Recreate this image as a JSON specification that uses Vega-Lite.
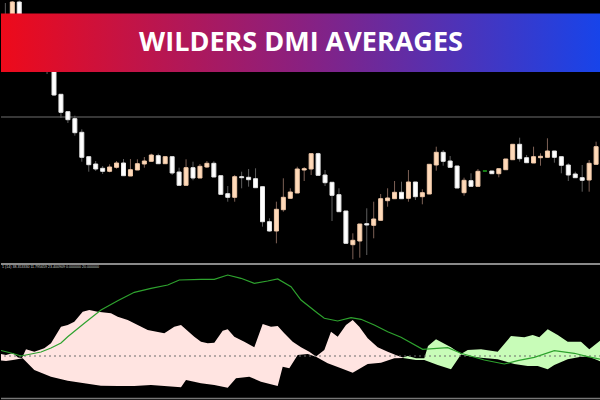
{
  "$schema": "https://vega.github.io/schema/vega-lite/v6.json",
  "background": "#000000",
  "padding": 0,
  "spacing": 0,
  "config": {"view": {"stroke": null}, "axis": {"disable": true}, "concat": {"spacing": 0}, "scale": {"continuousPadding": 0}},
  "datasets": {
    "candles": [
      {"bar": -7, "open": 1.1985, "high": 1.1997, "low": 1.1965, "close": 1.1970},
      {"bar": -6, "open": 1.1975, "high": 1.1999, "low": 1.1972, "close": 1.1998},
      {"bar": -5, "open": 1.1998, "high": 1.19995, "low": 1.1967, "close": 1.1970},
      {"bar": -4, "open": 1.1972, "high": 1.1975, "low": 1.1956, "close": 1.1960},
      {"bar": -3, "open": 1.1962, "high": 1.1974, "low": 1.1958, "close": 1.1970},
      {"bar": -2, "open": 1.1964, "high": 1.1968, "low": 1.1942, "close": 1.1945},
      {"bar": -1, "open": 1.1950, "high": 1.1954, "low": 1.1926, "close": 1.1932},
      {"bar": 0, "open": 1.1942, "high": 1.1945, "low": 1.1904, "close": 1.1905},
      {"bar": 1, "open": 1.19057, "high": 1.19057, "low": 1.1882, "close": 1.18877},
      {"bar": 2, "open": 1.18883, "high": 1.18883, "low": 1.1877, "close": 1.18803},
      {"bar": 3, "open": 1.18813, "high": 1.18843, "low": 1.18643, "close": 1.18673},
      {"bar": 4, "open": 1.18677, "high": 1.18707, "low": 1.18383, "close": 1.18427},
      {"bar": 5, "open": 1.18433, "high": 1.18433, "low": 1.18283, "close": 1.18353},
      {"bar": 6, "open": 1.1836, "high": 1.1839, "low": 1.1829, "close": 1.1831},
      {"bar": 7, "open": 1.18317, "high": 1.1834, "low": 1.1826, "close": 1.18287},
      {"bar": 8, "open": 1.18287, "high": 1.18357, "low": 1.18277, "close": 1.1833},
      {"bar": 9, "open": 1.18327, "high": 1.1839, "low": 1.18313, "close": 1.1837},
      {"bar": 10, "open": 1.1837, "high": 1.1841, "low": 1.18243, "close": 1.18243},
      {"bar": 11, "open": 1.1824, "high": 1.1841, "low": 1.1824, "close": 1.18303},
      {"bar": 12, "open": 1.183, "high": 1.18407, "low": 1.183, "close": 1.18363},
      {"bar": 13, "open": 1.1836, "high": 1.1843, "low": 1.18323, "close": 1.1839},
      {"bar": 14, "open": 1.18387, "high": 1.18463, "low": 1.18387, "close": 1.1845},
      {"bar": 15, "open": 1.18443, "high": 1.18463, "low": 1.18363, "close": 1.18363},
      {"bar": 16, "open": 1.18363, "high": 1.18433, "low": 1.18363, "close": 1.18433},
      {"bar": 17, "open": 1.18433, "high": 1.18433, "low": 1.1825, "close": 1.1827},
      {"bar": 18, "open": 1.1828, "high": 1.18323, "low": 1.18147, "close": 1.18147},
      {"bar": 19, "open": 1.18147, "high": 1.18407, "low": 1.18147, "close": 1.18323},
      {"bar": 20, "open": 1.18323, "high": 1.18383, "low": 1.18197, "close": 1.1822},
      {"bar": 21, "open": 1.1822, "high": 1.1836, "low": 1.1822, "close": 1.18337},
      {"bar": 22, "open": 1.1833, "high": 1.1839, "low": 1.1832, "close": 1.18367},
      {"bar": 23, "open": 1.18367, "high": 1.18387, "low": 1.1823, "close": 1.1823},
      {"bar": 24, "open": 1.18243, "high": 1.18243, "low": 1.18057, "close": 1.18057},
      {"bar": 25, "open": 1.18063, "high": 1.1814, "low": 1.17983, "close": 1.18027},
      {"bar": 26, "open": 1.18027, "high": 1.1825, "low": 1.17983, "close": 1.18233},
      {"bar": 27, "open": 1.18233, "high": 1.18283, "low": 1.18117, "close": 1.18223},
      {"bar": 28, "open": 1.18227, "high": 1.1831, "low": 1.18133, "close": 1.18203},
      {"bar": 29, "open": 1.18213, "high": 1.18317, "low": 1.18123, "close": 1.18123},
      {"bar": 30, "open": 1.18133, "high": 1.18133, "low": 1.17733, "close": 1.17783},
      {"bar": 31, "open": 1.17783, "high": 1.17817, "low": 1.17683, "close": 1.1769},
      {"bar": 32, "open": 1.1769, "high": 1.17983, "low": 1.17567, "close": 1.17907},
      {"bar": 33, "open": 1.17903, "high": 1.18217, "low": 1.17883, "close": 1.18027},
      {"bar": 34, "open": 1.18017, "high": 1.18117, "low": 1.18017, "close": 1.1808},
      {"bar": 35, "open": 1.1807, "high": 1.18333, "low": 1.1807, "close": 1.1831},
      {"bar": 36, "open": 1.183, "high": 1.1833, "low": 1.1819, "close": 1.18313},
      {"bar": 37, "open": 1.1831, "high": 1.18463, "low": 1.1825, "close": 1.18463},
      {"bar": 38, "open": 1.18463, "high": 1.18473, "low": 1.18247, "close": 1.18247},
      {"bar": 39, "open": 1.1825, "high": 1.183, "low": 1.1814, "close": 1.18173},
      {"bar": 40, "open": 1.18177, "high": 1.18177, "low": 1.1779, "close": 1.18047},
      {"bar": 41, "open": 1.18053, "high": 1.18117, "low": 1.17883, "close": 1.17883},
      {"bar": 42, "open": 1.1789, "high": 1.1789, "low": 1.17567, "close": 1.17567},
      {"bar": 43, "open": 1.17553, "high": 1.17667, "low": 1.17407, "close": 1.17597},
      {"bar": 44, "open": 1.1759, "high": 1.1776, "low": 1.17423, "close": 1.1776},
      {"bar": 45, "open": 1.17763, "high": 1.17917, "low": 1.1745, "close": 1.1775},
      {"bar": 46, "open": 1.17747, "high": 1.17983, "low": 1.17617, "close": 1.1781},
      {"bar": 47, "open": 1.17797, "high": 1.1806, "low": 1.17797, "close": 1.18013},
      {"bar": 48, "open": 1.17993, "high": 1.18117, "low": 1.17933, "close": 1.1802},
      {"bar": 49, "open": 1.18013, "high": 1.1819, "low": 1.18013, "close": 1.18077},
      {"bar": 50, "open": 1.18077, "high": 1.18183, "low": 1.18013, "close": 1.18013},
      {"bar": 51, "open": 1.18017, "high": 1.183, "low": 1.17983, "close": 1.1818},
      {"bar": 52, "open": 1.1818, "high": 1.1818, "low": 1.18, "close": 1.18033},
      {"bar": 53, "open": 1.18033, "high": 1.18107, "low": 1.17957, "close": 1.18073},
      {"bar": 54, "open": 1.1806, "high": 1.18357, "low": 1.1806, "close": 1.18357},
      {"bar": 55, "open": 1.1835, "high": 1.18533, "low": 1.18293, "close": 1.18477},
      {"bar": 56, "open": 1.18477, "high": 1.185, "low": 1.18343, "close": 1.18387},
      {"bar": 57, "open": 1.1839, "high": 1.1844, "low": 1.18327, "close": 1.18327},
      {"bar": 58, "open": 1.1834, "high": 1.1834, "low": 1.1812, "close": 1.1812},
      {"bar": 59, "open": 1.18073, "high": 1.18223, "low": 1.18043, "close": 1.18197},
      {"bar": 60, "open": 1.18193, "high": 1.18267, "low": 1.18137, "close": 1.18137},
      {"bar": 61, "open": 1.18137, "high": 1.1831, "low": 1.18137, "close": 1.18287},
      {"bar": 62, "open": 1.1829, "high": 1.1829, "low": 1.1829, "close": 1.1829},
      {"bar": 63, "open": 1.1829, "high": 1.1829, "low": 1.18263, "close": 1.18263},
      {"bar": 64, "open": 1.18263, "high": 1.18313, "low": 1.18227, "close": 1.18313},
      {"bar": 65, "open": 1.18303, "high": 1.1841, "low": 1.18303, "close": 1.1841},
      {"bar": 66, "open": 1.18403, "high": 1.18557, "low": 1.18403, "close": 1.18557},
      {"bar": 67, "open": 1.18557, "high": 1.18623, "low": 1.18383, "close": 1.18413},
      {"bar": 68, "open": 1.18423, "high": 1.1845, "low": 1.18373, "close": 1.18373},
      {"bar": 69, "open": 1.1837, "high": 1.18533, "low": 1.1837, "close": 1.18433},
      {"bar": 70, "open": 1.18423, "high": 1.18467, "low": 1.18343, "close": 1.18437},
      {"bar": 71, "open": 1.18427, "high": 1.18617, "low": 1.18427, "close": 1.1849},
      {"bar": 72, "open": 1.1849, "high": 1.1849, "low": 1.18373, "close": 1.18427},
      {"bar": 73, "open": 1.18433, "high": 1.18433, "low": 1.18267, "close": 1.18347},
      {"bar": 74, "open": 1.1835, "high": 1.18367, "low": 1.1819, "close": 1.1825},
      {"bar": 75, "open": 1.1826, "high": 1.18283, "low": 1.18223, "close": 1.18223},
      {"bar": 76, "open": 1.18223, "high": 1.1835, "low": 1.18083, "close": 1.18197},
      {"bar": 77, "open": 1.182, "high": 1.184, "low": 1.18083, "close": 1.18367},
      {"bar": 78, "open": 1.18357, "high": 1.18583, "low": 1.18357, "close": 1.18533},
      {"bar": 79, "open": 1.1854, "high": 1.1856, "low": 1.184, "close": 1.184}
    ],
    "dmi": [
      {"series": "upper_pink", "bar": -7.626, "value": 20.95},
      {"series": "upper_pink", "bar": -6.906, "value": 20.48},
      {"series": "upper_pink", "bar": -5.899, "value": 21.43},
      {"series": "upper_pink", "bar": -5.18, "value": 19.29},
      {"series": "upper_pink", "bar": -4.604, "value": 19.05},
      {"series": "upper_pink", "bar": -4.029, "value": 23.19},
      {"series": "upper_pink", "bar": -2.835, "value": 22.05},
      {"series": "upper_pink", "bar": -1.396, "value": 23.67},
      {"series": "upper_pink", "bar": -0.432, "value": 26.05},
      {"series": "upper_pink", "bar": 1.007, "value": 33.95},
      {"series": "upper_pink", "bar": 1.971, "value": 34.76},
      {"series": "upper_pink", "bar": 2.921, "value": 36.33},
      {"series": "upper_pink", "bar": 4.129, "value": 41.10},
      {"series": "upper_pink", "bar": 5.079, "value": 41.90},
      {"series": "upper_pink", "bar": 6.288, "value": 41.10},
      {"series": "upper_pink", "bar": 8.201, "value": 40.33},
      {"series": "upper_pink", "bar": 9.165, "value": 38.71},
      {"series": "upper_pink", "bar": 10.604, "value": 37.14},
      {"series": "upper_pink", "bar": 12.043, "value": 34.76},
      {"series": "upper_pink", "bar": 13.482, "value": 32.38},
      {"series": "upper_pink", "bar": 15.871, "value": 30.81},
      {"series": "upper_pink", "bar": 17.309, "value": 33.95},
      {"series": "upper_pink", "bar": 18.273, "value": 34.76},
      {"series": "upper_pink", "bar": 20.187, "value": 29.19},
      {"series": "upper_pink", "bar": 21.151, "value": 26.81},
      {"series": "upper_pink", "bar": 22.115, "value": 26.05},
      {"series": "upper_pink", "bar": 23.065, "value": 26.33},
      {"series": "upper_pink", "bar": 24.273, "value": 32.05},
      {"series": "upper_pink", "bar": 24.993, "value": 32.71},
      {"series": "upper_pink", "bar": 25.942, "value": 29.19},
      {"series": "upper_pink", "bar": 27.381, "value": 26.81},
      {"series": "upper_pink", "bar": 28.82, "value": 24.14},
      {"series": "upper_pink", "bar": 30.029, "value": 35.24},
      {"series": "upper_pink", "bar": 31.223, "value": 33.95},
      {"series": "upper_pink", "bar": 32.187, "value": 34.29},
      {"series": "upper_pink", "bar": 33.137, "value": 30.81},
      {"series": "upper_pink", "bar": 34.345, "value": 26.81},
      {"series": "upper_pink", "bar": 35.54, "value": 24.14},
      {"series": "upper_pink", "bar": 36.734, "value": 22.05},
      {"series": "upper_pink", "bar": 37.698, "value": 19.76},
      {"series": "upper_pink", "bar": 38.892, "value": 22.86},
      {"series": "upper_pink", "bar": 39.856, "value": 31.57},
      {"series": "upper_pink", "bar": 40.82, "value": 29.19},
      {"series": "upper_pink", "bar": 42.014, "value": 34.76},
      {"series": "upper_pink", "bar": 42.978, "value": 37.14},
      {"series": "upper_pink", "bar": 43.928, "value": 33.95},
      {"series": "upper_pink", "bar": 45.137, "value": 28.43},
      {"series": "upper_pink", "bar": 46.576, "value": 24.14},
      {"series": "upper_pink", "bar": 48.014, "value": 22.05},
      {"series": "upper_pink", "bar": 49.353, "value": 20.24},
      {"series": "upper_pink", "bar": 50.216, "value": 19.29},
      {"series": "upper_green", "bar": 50.216, "value": 19.29},
      {"series": "upper_green", "bar": 50.892, "value": 20.00},
      {"series": "upper_green", "bar": 52.086, "value": 18.90},
      {"series": "upper_green", "bar": 53.281, "value": 18.90},
      {"series": "upper_green", "bar": 53.813, "value": 24.76},
      {"series": "upper_green", "bar": 54.964, "value": 27.95},
      {"series": "upper_green", "bar": 57.122, "value": 24.14},
      {"series": "upper_green", "bar": 58.561, "value": 20.95},
      {"series": "upper_green", "bar": 59.525, "value": 22.86},
      {"series": "upper_green", "bar": 61.439, "value": 23.19},
      {"series": "upper_green", "bar": 63.842, "value": 22.05},
      {"series": "upper_green", "bar": 65.755, "value": 29.52},
      {"series": "upper_green", "bar": 67.669, "value": 28.90},
      {"series": "upper_green", "bar": 68.878, "value": 30.00},
      {"series": "upper_green", "bar": 69.827, "value": 28.90},
      {"series": "upper_green", "bar": 71.036, "value": 32.71},
      {"series": "upper_green", "bar": 72.475, "value": 30.00},
      {"series": "upper_green", "bar": 73.914, "value": 26.81},
      {"series": "upper_green", "bar": 75.827, "value": 26.81},
      {"series": "upper_green", "bar": 77.022, "value": 23.19},
      {"series": "upper_green", "bar": 78.705, "value": 27.62},
      {"series": "lower", "bar": -7.626, "value": 17.86},
      {"series": "lower", "bar": -6.906, "value": 17.62},
      {"series": "lower", "bar": -5.899, "value": 18.10},
      {"series": "lower", "bar": -4.504, "value": 18.90},
      {"series": "lower", "bar": -2.835, "value": 13.33},
      {"series": "lower", "bar": -0.432, "value": 10.14},
      {"series": "lower", "bar": 1.971, "value": 8.24},
      {"series": "lower", "bar": 4.36, "value": 7.00},
      {"series": "lower", "bar": 6.763, "value": 5.86},
      {"series": "lower", "bar": 9.165, "value": 5.71},
      {"series": "lower", "bar": 11.554, "value": 5.71},
      {"series": "lower", "bar": 13.957, "value": 6.19},
      {"series": "lower", "bar": 17.309, "value": 5.38},
      {"series": "lower", "bar": 18.273, "value": 5.10},
      {"series": "lower", "bar": 18.993, "value": 8.57},
      {"series": "lower", "bar": 21.151, "value": 7.00},
      {"series": "lower", "bar": 23.065, "value": 6.19},
      {"series": "lower", "bar": 24.993, "value": 4.90},
      {"series": "lower", "bar": 26.187, "value": 9.38},
      {"series": "lower", "bar": 28.101, "value": 10.14},
      {"series": "lower", "bar": 29.784, "value": 7.76},
      {"series": "lower", "bar": 32.187, "value": 5.71},
      {"series": "lower", "bar": 32.906, "value": 14.90},
      {"series": "lower", "bar": 33.856, "value": 14.14},
      {"series": "lower", "bar": 35.065, "value": 20.48},
      {"series": "lower", "bar": 36.504, "value": 20.95},
      {"series": "lower", "bar": 37.698, "value": 19.67},
      {"series": "lower", "bar": 39.381, "value": 16.52},
      {"series": "lower", "bar": 41.295, "value": 14.14},
      {"series": "lower", "bar": 42.978, "value": 12.05},
      {"series": "lower", "bar": 45.137, "value": 16.19},
      {"series": "lower", "bar": 47.05, "value": 16.81},
      {"series": "lower", "bar": 48.964, "value": 18.90},
      {"series": "lower", "bar": 50.216, "value": 19.05},
      {"series": "lower", "bar": 52.086, "value": 18.10},
      {"series": "lower", "bar": 53.281, "value": 18.10},
      {"series": "lower", "bar": 55.209, "value": 15.71},
      {"series": "lower", "bar": 57.122, "value": 13.67},
      {"series": "lower", "bar": 58.561, "value": 20.71},
      {"series": "lower", "bar": 59.525, "value": 20.00},
      {"series": "lower", "bar": 61.439, "value": 19.19},
      {"series": "lower", "bar": 63.842, "value": 18.43},
      {"series": "lower", "bar": 66.23, "value": 16.19},
      {"series": "lower", "bar": 68.158, "value": 15.24},
      {"series": "lower", "bar": 69.597, "value": 15.24},
      {"series": "lower", "bar": 71.036, "value": 13.67},
      {"series": "lower", "bar": 71.986, "value": 15.71},
      {"series": "lower", "bar": 73.914, "value": 18.43},
      {"series": "lower", "bar": 75.827, "value": 19.67},
      {"series": "lower", "bar": 77.022, "value": 19.67},
      {"series": "lower", "bar": 78.705, "value": 17.29},
      {"series": "adx", "bar": -7.626, "value": 22.62},
      {"series": "adx", "bar": -6.187, "value": 21.43},
      {"series": "adx", "bar": -4.748, "value": 20.00},
      {"series": "adx", "bar": -3.309, "value": 20.95},
      {"series": "adx", "bar": -1.871, "value": 21.90},
      {"series": "adx", "bar": -0.432, "value": 23.81},
      {"series": "adx", "bar": 1.007, "value": 26.19},
      {"series": "adx", "bar": 1.971, "value": 29.19},
      {"series": "adx", "bar": 4.36, "value": 35.57},
      {"series": "adx", "bar": 6.763, "value": 41.90},
      {"series": "adx", "bar": 9.165, "value": 46.33},
      {"series": "adx", "bar": 11.554, "value": 50.33},
      {"series": "adx", "bar": 13.957, "value": 52.24},
      {"series": "adx", "bar": 16.36, "value": 53.81},
      {"series": "adx", "bar": 18.029, "value": 56.19},
      {"series": "adx", "bar": 21.151, "value": 56.52},
      {"series": "adx", "bar": 23.065, "value": 56.52},
      {"series": "adx", "bar": 24.993, "value": 58.57},
      {"series": "adx", "bar": 26.906, "value": 57.00},
      {"series": "adx", "bar": 28.82, "value": 54.62},
      {"series": "adx", "bar": 30.748, "value": 55.71},
      {"series": "adx", "bar": 32.187, "value": 56.67},
      {"series": "adx", "bar": 34.101, "value": 53.00},
      {"series": "adx", "bar": 35.54, "value": 46.67},
      {"series": "adx", "bar": 37.942, "value": 40.33},
      {"series": "adx", "bar": 38.892, "value": 37.95},
      {"series": "adx", "bar": 40.82, "value": 36.67},
      {"series": "adx", "bar": 42.734, "value": 38.24},
      {"series": "adx", "bar": 44.173, "value": 37.48},
      {"series": "adx", "bar": 46.086, "value": 34.76},
      {"series": "adx", "bar": 48.014, "value": 31.57},
      {"series": "adx", "bar": 49.928, "value": 28.90},
      {"series": "adx", "bar": 53.05, "value": 23.19},
      {"series": "adx", "bar": 56.647, "value": 23.95},
      {"series": "adx", "bar": 58.561, "value": 21.29},
      {"series": "adx", "bar": 61.914, "value": 18.10},
      {"series": "adx", "bar": 64.791, "value": 16.19},
      {"series": "adx", "bar": 66.719, "value": 17.76},
      {"series": "adx", "bar": 69.108, "value": 19.38},
      {"series": "adx", "bar": 71.986, "value": 22.52},
      {"series": "adx", "bar": 74.863, "value": 21.29},
      {"series": "adx", "bar": 76.791, "value": 19.67},
      {"series": "adx", "bar": 78.705, "value": 18.43}
    ]
  },
  "vconcat": [
    {
      "width": 600,
      "height": 263,
      "layer": [
        {
          "data": {"values": [{"level": 1.1883}]},
          "mark": {"type": "rule", "color": "#4a4a4a", "strokeWidth": 1.5},
          "encoding": {"y": {"field": "level", "type": "quantitative", "scale": {"domain": [1.1737, 1.2], "nice": false, "zero": false, "padding": 0}}}
        },
        {
          "data": {"name": "candles"},
          "mark": {"type": "rule", "strokeWidth": 1, "clip": true},
          "encoding": {
            "x": {"field": "bar", "type": "quantitative", "scale": {"domain": [-7.626, 78.705], "nice": false, "zero": false, "padding": 0}},
            "y": {"field": "low", "type": "quantitative"},
            "y2": {"field": "high"},
            "color": {"condition": {"test": "datum.close > datum.open", "value": "#7d6156"}, "value": "#5e5e5e"}
          }
        },
        {
          "data": {"name": "candles"},
          "mark": {"type": "bar", "size": 4, "strokeWidth": 1, "clip": true},
          "encoding": {
            "x": {"field": "bar", "type": "quantitative"},
            "y": {"field": "open", "type": "quantitative"},
            "y2": {"field": "close"},
            "fill": {"condition": [{"test": "datum.close == datum.open", "value": "#1fa81f"}, {"test": "datum.close < datum.open", "value": "#ffffff"}], "value": "#ffdab9"},
            "stroke": {"condition": [{"test": "datum.close == datum.open", "value": "#1fa81f"}, {"test": "datum.close < datum.open", "value": "#e6e6e6"}], "value": "#f0c8a8"}
          }
        },
        {
          "data": {"values": [{"label": "banner"}]},
          "mark": {"type": "rect", "color": {"gradient": "linear", "x1": 0, "y1": 0, "x2": 1, "y2": 0, "stops": [{"offset": 0, "color": "#ee0a1a"}, {"offset": 0.5, "color": "#8a2080"}, {"offset": 1, "color": "#1744ea"}]}},
          "encoding": {
            "x": {"datum": -7.626},
            "x2": {"datum": 78.705},
            "y": {"datum": 1.19865},
            "y2": {"datum": 1.1928}
          }
        },
        {
          "data": {"values": [{"label": "WILDERS DMI AVERAGES"}]},
          "mark": {"type": "text", "color": "#ffffff", "font": "Open Sans", "fontSize": 27, "fontWeight": "bold", "align": "center", "baseline": "middle"},
          "encoding": {
            "x": {"datum": 35.54},
            "y": {"datum": 1.1957},
            "text": {"field": "label"}
          }
        }
      ]
    },
    {
      "width": 600,
      "height": 137,
      "layer": [
        {
          "data": {"name": "dmi"},
          "transform": [{"filter": "datum.series == 'upper_pink'"}],
          "mark": {"type": "area", "color": "#ffe4e1", "clip": true},
          "encoding": {
            "x": {"field": "bar", "type": "quantitative", "scale": {"domain": [-7.626, 78.705], "nice": false, "zero": false, "padding": 0}},
            "y": {"field": "value", "type": "quantitative", "scale": {"domain": [-0.952, 64.286], "nice": false, "zero": false, "padding": 0}},
            "y2": {"datum": 0}
          }
        },
        {
          "data": {"name": "dmi"},
          "transform": [{"filter": "datum.series == 'upper_green'"}],
          "mark": {"type": "area", "color": "#c8fcb8", "clip": true},
          "encoding": {
            "x": {"field": "bar", "type": "quantitative"},
            "y": {"field": "value", "type": "quantitative"},
            "y2": {"datum": 0}
          }
        },
        {
          "data": {"name": "dmi"},
          "transform": [{"filter": "datum.series == 'lower'"}],
          "mark": {"type": "area", "color": "#000000", "clip": true},
          "encoding": {
            "x": {"field": "bar", "type": "quantitative"},
            "y": {"field": "value", "type": "quantitative"},
            "y2": {"datum": 0}
          }
        },
        {
          "data": {"values": [{"level": 20}]},
          "mark": {"type": "rule", "color": "#6a6a6a", "strokeWidth": 1, "strokeDash": [2, 3]},
          "encoding": {"y": {"field": "level", "type": "quantitative"}}
        },
        {
          "data": {"name": "dmi"},
          "transform": [{"filter": "datum.series == 'adx'"}],
          "mark": {"type": "line", "color": "#2ea22e", "strokeWidth": 1.2, "clip": true},
          "encoding": {
            "x": {"field": "bar", "type": "quantitative"},
            "y": {"field": "value", "type": "quantitative"}
          }
        },
        {
          "data": {"values": [{"level": 63.8}]},
          "mark": {"type": "rule", "color": "#8a8a8a", "strokeWidth": 2},
          "encoding": {"y": {"field": "level", "type": "quantitative"}}
        },
        {
          "data": {"values": [{"level": -0.24}]},
          "mark": {"type": "rule", "color": "#777777", "strokeWidth": 1.5},
          "encoding": {"y": {"field": "level", "type": "quantitative"}}
        },
        {
          "data": {"values": [{"label": "1 (14) 38.353330 11.795659 23.400909 0.000000 20.000000"}]},
          "mark": {"type": "text", "color": "#cfcfcf", "font": "Liberation Sans", "fontSize": 3.6, "align": "left", "baseline": "middle"},
          "encoding": {
            "x": {"datum": -7.48},
            "y": {"datum": 62.4},
            "text": {"field": "label"}
          }
        }
      ]
    }
  ]
}
